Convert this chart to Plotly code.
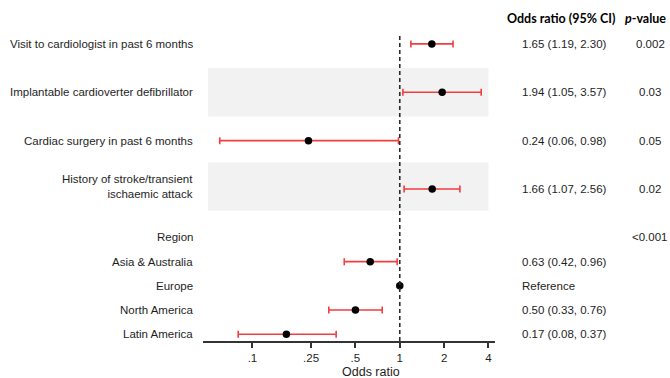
import plotly.graph_objects as go

# Forest plot data (odds ratios with 95% CI)
labels = [
    "Visit to cardiologist in past 6 months",
    "Implantable cardioverter defibrillator",
    "Cardiac surgery in past 6 months",
    "History of stroke/transient<br>ischaemic attack",
    "Region",
    "Asia & Australia",
    "Europe",
    "North America",
    "Latin America",
]
odds_ratio = [1.65, 1.94, 0.24, 1.66, None, 0.63, 1.00, 0.50, 0.17]
ci_low = [1.19, 1.05, 0.06, 1.07, None, 0.42, None, 0.33, 0.08]
ci_high = [2.30, 3.57, 0.98, 2.56, None, 0.96, None, 0.76, 0.37]
p_values = ["0.002", "0.03", "0.05", "0.02", "<0.001", "", "", "", ""]
reference_label = "Reference"
tick_vals = [0.1, 0.25, 0.5, 1, 2, 4]
tick_text = [".1", ".25", ".5", "1", "2", "4"]

# vertical row positions (top to bottom)
rows = [0, 2, 4, 6, 8, 9, 10, 11, 12]
shaded_bands = [(1, 3), (4.9, 6.9)]

W, H = 670, 378
L, R, T, B = 203, 175, 33.4, 37.3
plot_w = W - L - R
plot_h = H - T - B

def px_to_paper_x(px):
    return (px - L) / plot_w

def px_to_paper_y(py):
    return (H - B - py) / plot_h

TEXT = "#1e1e1e"
ARIAL = "Liberation Sans, Arial, sans-serif"
RED = "#f03e41"

fig = go.Figure()

# shaded bands behind alternate rows
for y0, y1 in shaded_bands:
    fig.add_shape(type="rect", xref="x", yref="y", x0=0.05, x1=4, y0=y0, y1=y1,
                  fillcolor="#f2f2f2", line_width=0, layer="below")

# reference line at OR = 1
fig.add_shape(type="line", xref="x", yref="paper", x0=1, x1=1, y0=0, y1=1,
              line=dict(color="#2a2a2a", width=1.6, dash="4px,3px"))

ci_rows = [i for i in range(len(labels)) if ci_low[i] is not None]
fig.add_trace(go.Scatter(
    x=[odds_ratio[i] for i in ci_rows],
    y=[rows[i] for i in ci_rows],
    mode="markers",
    marker=dict(color="black", size=7.5),
    error_x=dict(type="data", symmetric=False,
                 array=[ci_high[i] - odds_ratio[i] for i in ci_rows],
                 arrayminus=[odds_ratio[i] - ci_low[i] for i in ci_rows],
                 color=RED, thickness=1.6, width=3.5),
    showlegend=False, hoverinfo="skip",
))

ref_rows = [i for i in range(len(labels)) if odds_ratio[i] is not None and ci_low[i] is None]
fig.add_trace(go.Scatter(
    x=[odds_ratio[i] for i in ref_rows],
    y=[rows[i] for i in ref_rows],
    mode="markers",
    marker=dict(color="black", size=7.5),
    showlegend=False, hoverinfo="skip",
))

ann = []
for i, lab in enumerate(labels):
    ann.append(dict(x=0, xref="paper", y=rows[i], yref="y", text=lab,
                    xanchor="right", yanchor="middle", align="right", xshift=-8,
                    yshift=3 if "<br>" in lab else 0,
                    showarrow=False, font=dict(family=ARIAL, size=11.5, color=TEXT)))
    if odds_ratio[i] is not None:
        if ci_low[i] is not None:
            txt = f"{odds_ratio[i]:.2f} ({ci_low[i]:.2f}, {ci_high[i]:.2f})"
        else:
            txt = reference_label
        ann.append(dict(x=px_to_paper_x(519.5), xref="paper", y=rows[i], yref="y",
                        text=txt, xanchor="left", yanchor="middle", showarrow=False,
                        font=dict(family=ARIAL, size=11.5, color=TEXT)))
    if p_values[i]:
        ann.append(dict(x=px_to_paper_x(650), xref="paper", y=rows[i], yref="y",
                        text=p_values[i], xanchor="center", yanchor="middle",
                        showarrow=False, font=dict(family=ARIAL, size=11.5, color=TEXT)))

# column headers
HEAD = "Lato, Open Sans, sans-serif"
ann.append(dict(x=px_to_paper_x(561), xref="paper", y=px_to_paper_y(19), yref="paper",
                text="<b>Odds ratio (95% CI)</b>", xanchor="center", yanchor="middle",
                showarrow=False, font=dict(family=HEAD, size=12.5, color="black")))
ann.append(dict(x=px_to_paper_x(668), xref="paper", y=px_to_paper_y(19), yref="paper",
                text="<b><i>p</i>-value</b>", xanchor="right", yanchor="middle",
                showarrow=False, font=dict(family=HEAD, size=12.5, color="black")))

# axis title
ann.append(dict(x=px_to_paper_x(371), xref="paper", y=px_to_paper_y(372), yref="paper",
                text="Odds ratio", xanchor="center", yanchor="middle", showarrow=False,
                font=dict(family=ARIAL, size=12.5, color=TEXT)))

fig.update_layout(
    width=W, height=H,
    margin=dict(l=L, r=R, t=T, b=B, pad=0),
    paper_bgcolor="white", plot_bgcolor="white",
    annotations=ann,
    xaxis=dict(type="log", range=[-1.3356, 0.6464],
               tickvals=tick_vals, ticktext=tick_text,
               ticks="outside", ticklen=5, tickwidth=1.5, tickcolor="#333",
               showline=True, linecolor="#333", linewidth=1.6,
               showgrid=False, zeroline=False,
               tickfont=dict(family=ARIAL, size=11.5, color=TEXT)),
    yaxis=dict(range=[12.28, -0.45], showticklabels=False, showgrid=False,
               zeroline=False, showline=False, ticks=""),
)

fig.write_html("out.html")
